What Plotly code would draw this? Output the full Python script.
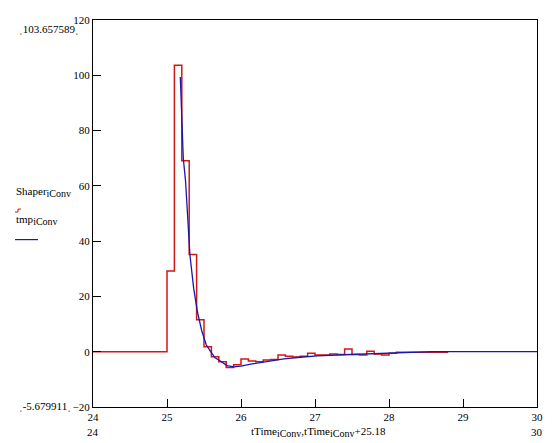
import plotly.graph_objects as go

# Red stepped series: Shaper_iConv at tTime (0.1 steps starting at 24.0)
shaper_t = [24.0, 24.1, 24.2, 24.3, 24.4, 24.5, 24.6, 24.7, 24.8, 24.9,
            25.0, 25.1, 25.2, 25.3, 25.4, 25.5, 25.6, 25.7, 25.8, 25.9,
            26.0, 26.1, 26.2, 26.3, 26.4, 26.5, 26.6, 26.7, 26.8, 26.9,
            27.0, 27.1, 27.2, 27.3, 27.4, 27.5, 27.6, 27.7, 27.8, 27.9,
            28.0, 28.1, 28.2, 28.3, 28.4, 28.5, 28.6, 28.7, 28.8]
shaper_v = [0, 0, 0, 0, 0, 0, 0, 0, 0, 0,
            29.2, 103.657589, 69.1, 35.2, 11.6, 1.8, -1.8, -3.6, -5.679911, -4.7,
            -2.6, -3.4, -3.6, -3.0, -2.8, -1.2, -1.6, -1.9, -1.6, -0.6,
            -1.2, -1.2, -0.8, -1.0, 1.0, -1.0, -1.2, 0.2, -0.8, -1.2,
            -0.6, -0.2, -0.2, -0.2, -0.2, -0.2, -0.2, -0.2, -0.2]

# Blue series: tmp_iConv against tTime_iConv (plotted at tTime + 25.18)
tmp_t = [0.0, 0.02, 0.04, 0.07, 0.10, 0.13, 0.18, 0.23, 0.29, 0.35, 0.41,
         0.47, 0.52, 0.57, 0.63, 0.72, 0.82, 0.95, 1.17, 1.40, 1.62, 1.85,
         2.21, 2.66, 2.91, 3.12, 3.4, 4.82]
tmp_v = [99.4, 85.0, 70.0, 62.0, 47.0, 35.0, 23.0, 14.6, 7.5, 2.5, 0.0,
         -2.2, -3.0, -4.0, -5.0, -5.5, -5.2, -4.5, -3.5, -2.6, -2.0, -1.5,
         -1.1, -0.7, -0.3, -0.05, 0.0, 0.0]
offset = 25.18

x_ticks = [24, 25, 26, 27, 28, 29, 30]
y_ticks = [-20, 0, 20, 40, 60, 80, 100, 120]

RED = "#d01818"
BLUE = "#1818b0"
FONT = "Liberation Serif"

fig = go.Figure()
fig.add_trace(go.Scatter(x=shaper_t, y=shaper_v, mode="lines",
                         line=dict(color=RED, width=1.5, shape="hv"),
                         showlegend=False))
fig.add_trace(go.Scatter(x=[t + offset for t in tmp_t], y=tmp_v, mode="lines",
                         line=dict(color=BLUE, width=1.3),
                         showlegend=False))

# page has an 8px body margin: lay out the figure in page pixel terms
PAGE_W, PAGE_H, BODY = 560, 443, 8
PL, PR, PT, PB = 93, 537, 14, 407          # plot area in page pixels
W, H = PAGE_W - BODY, PAGE_H - BODY
L, T = PL - BODY, PT - BODY
R, B = W - (PR - BODY), H - (PB - BODY)
PW, PH = PR - PL, PB - PT

def px(x):
    return (x - PL) / PW

def py(y):
    return (PB - y) / PH

SUB = "<sub><span style='font-size:10px'>{}</span></sub>"

annots = []
def txt(x, y, s, size=11, xanchor="left"):
    annots.append(dict(x=px(x), y=py(y), xref="paper", yref="paper", text=s,
                       showarrow=False, xanchor=xanchor, yanchor="middle",
                       font=dict(family=FONT, size=size, color="black")))

txt(17, 23, "ˌ103.657589ˌ", 11)
txt(17, 406, "ˌ-5.679911ˌ", 11)
txt(14, 189, "Shaper" + SUB.format("iConv"), 11)
txt(14, 217, "tmp" + SUB.format("iConv"), 11)
txt(93, 432, "24", 11, "center")
txt(537, 432, "30", 11, "center")
txt(318, 432, "tTime" + SUB.format("iConv") + ",tTime" + SUB.format("iConv") + "+25.18", 11, "center")

shapes = [
    dict(type="path", xref="paper", yref="paper",
         path=f"M {px(15)},{py(209)} L {px(18)},{py(209)} L {px(18)},{py(206)} L {px(21)},{py(206)}",
         line=dict(color=RED, width=1)),
    dict(type="line", xref="paper", yref="paper", x0=px(15), x1=px(38),
         y0=py(237), y1=py(237), line=dict(color=BLUE, width=1.2)),
]

axis_common = dict(showgrid=False, zeroline=False, showline=True, mirror=True,
                   linecolor="black", linewidth=1, ticks="inside", ticklen=8,
                   tickcolor="black", ticklabeloverflow="allow",
                   tickfont=dict(family=FONT, size=11, color="black"))

fig.update_layout(
    width=W, height=H,
    margin=dict(l=L, r=R, t=T, b=B, pad=0),
    paper_bgcolor="white", plot_bgcolor="white",
    xaxis=dict(range=[24, 30], tickvals=x_ticks, **axis_common),
    yaxis=dict(range=[-20, 120], tickvals=y_ticks, **axis_common),
    annotations=annots, shapes=shapes,
)

fig.write_html("out.html")
